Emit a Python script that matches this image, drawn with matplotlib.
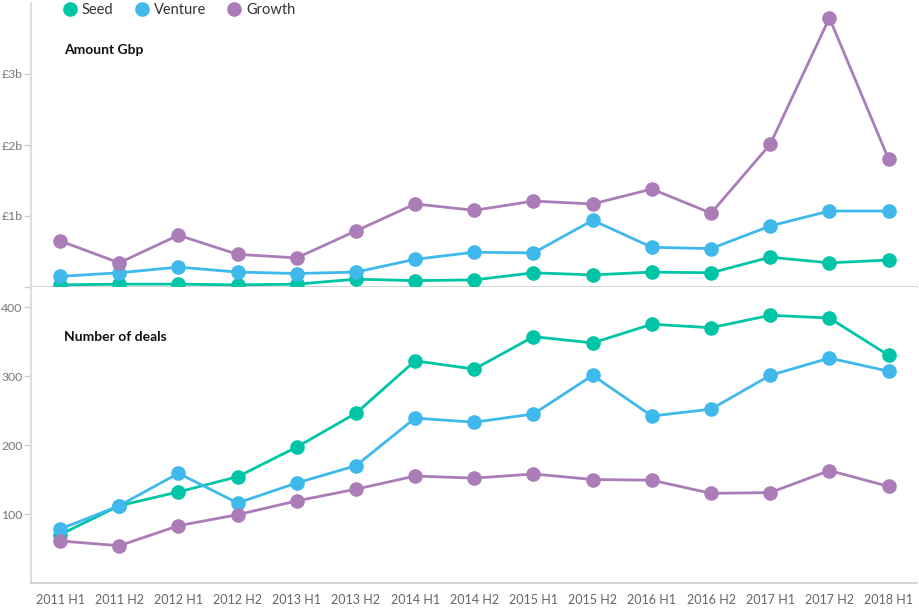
import matplotlib
matplotlib.use('Agg')
import matplotlib.pyplot as plt
import numpy as np

periods = ['2011 H1', '2011 H2', '2012 H1', '2012 H2', '2013 H1', '2013 H2',
           '2014 H1', '2014 H2', '2015 H1', '2015 H2', '2016 H1', '2016 H2',
           '2017 H1', '2017 H2', '2018 H1']

# amount invested, £ billions
seed_amount = [0.03, 0.04, 0.04, 0.03, 0.04, 0.11, 0.09, 0.10, 0.20, 0.17,
               0.21, 0.20, 0.42, 0.34, 0.38]
venture_amount = [0.15, 0.20, 0.28, 0.21, 0.19, 0.21, 0.39, 0.49, 0.48, 0.94,
                  0.56, 0.54, 0.86, 1.07, 1.07]
growth_amount = [0.65, 0.34, 0.73, 0.46, 0.41, 0.79, 1.17, 1.08, 1.21, 1.17,
                 1.38, 1.04, 2.01, 3.79, 1.80]

# number of deals
seed_deals = [70, 112, 132, 154, 197, 246, 322, 310, 357, 348, 375, 370, 388, 384, 330]
venture_deals = [78, 112, 159, 116, 145, 170, 239, 233, 245, 301, 242, 252, 301, 326, 307]
growth_deals = [61, 54, 83, 99, 119, 136, 155, 152, 158, 150, 149, 130, 131, 163, 140]

amount_ticks = [1, 2, 3]
amount_labels = ['£1b', '£2b', '£3b']
deal_ticks = [100, 200, 300, 400]

colors = {'Seed': '#00c4a6', 'Venture': '#3fb8ec', 'Growth': '#ab7db8'}

plt.rcParams['font.family'] = ['Lato', 'DejaVu Sans']

fig = plt.figure(figsize=(9.2, 6.08), dpi=100)
ax_top = fig.add_axes([31 / 920, 1 - 287 / 608, 886 / 920, 284 / 608])
ax_bot = fig.add_axes([31 / 920, 1 - 583 / 608, 886 / 920, 296 / 608], sharex=ax_top)

x = np.arange(len(periods))

series_top = [('Seed', seed_amount), ('Venture', venture_amount), ('Growth', growth_amount)]
series_bot = [('Seed', seed_deals), ('Venture', venture_deals), ('Growth', growth_deals)]

for name, vals in series_top:
    ax_top.plot(x, vals, color=colors[name], lw=2.0, marker='o', ms=9.5,
                label=name, clip_on=False, zorder=3)
for name, vals in series_bot:
    ax_bot.plot(x, vals, color=colors[name], lw=2.0, marker='o', ms=9.5,
                clip_on=False, zorder=3)

ax_top.set_xlim(-0.49, 14.48)
ax_top.set_ylim(0, 4.0)
ax_bot.set_ylim(0, 429)

ax_top.set_yticks([0] + amount_ticks)
ax_top.set_yticklabels([''] + amount_labels)
ax_bot.set_yticks(deal_ticks)

for ax in (ax_top, ax_bot):
    for s in ('top', 'right'):
        ax.spines[s].set_visible(False)
    ax.spines['left'].set_color('#dddddd')
    ax.spines['left'].set_linewidth(1.5)
    ax.spines['bottom'].set_color('#cccccc')
    ax.spines['bottom'].set_linewidth(1.2)
    ax.tick_params(axis='y', length=5, width=1, color='#cccccc',
                   labelcolor='#777777', labelsize=8.8, pad=1)
    ax.tick_params(axis='x', length=0, labelcolor='#666666', labelsize=9, pad=8)

ax_top.tick_params(axis='x', labelbottom=False)
ax_bot.set_xticks(x)
ax_bot.set_xticklabels(periods)

fig.text(64 / 920, 1 - 50 / 608, 'Amount Gbp', fontsize=10, fontweight='bold',
         va='center', ha='left', color='#111111')
fig.text(64 / 920, 1 - 337 / 608, 'Number of deals', fontsize=10, fontweight='bold',
         va='center', ha='left', color='#111111')

handles, labels = ax_top.get_legend_handles_labels()
leg = fig.legend(handles, labels, loc='upper left', bbox_to_anchor=(52 / 920, 1.016),
                 ncol=3, frameon=False, fontsize=10.5, handlelength=0.7,
                 handletextpad=0.45, columnspacing=1.6, markerscale=1.0)
for h in leg.legend_handles:
    h.set_linestyle('none')
for t in leg.get_texts():
    t.set_color('#333333')

fig.savefig('out.png', dpi=100)
